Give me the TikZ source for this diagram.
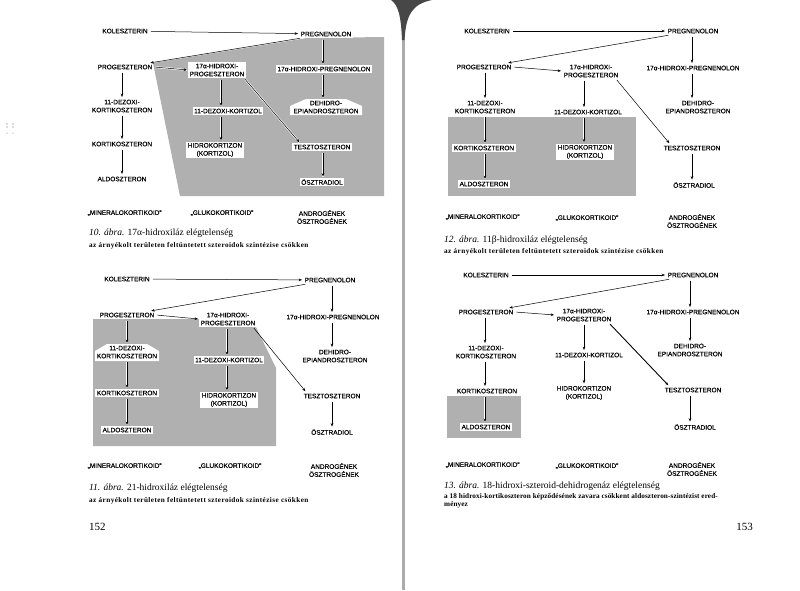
\documentclass[tikz,border=0pt]{standalone}
\usepackage{fontspec}
\setmainfont{Liberation Serif}
\newfontfamily\labfont[FakeBold=0.25]{Liberation Sans}
\usetikzlibrary{arrows.meta,calc}
\begin{document}
\begin{tikzpicture}[x=1pt,y=-1pt,
  lab/.style={font=\labfont\fontsize{6.5}{8}\selectfont, inner sep=1.5pt, align=center},
  wb/.style={lab, fill=white},
  arr/.style={-{Stealth[length=3.4pt,width=2.6pt]}, line width=0.5pt, shorten >=1pt, shorten <=1.5pt},
  harr/.style={arr, preaction={draw=white, line width=1.8pt, -}},
  thk/.style={arr, line width=0.9pt},
  shd/.style={fill=black!31},
  capt/.style={anchor=west, inner sep=0pt, font=\fontsize{9.5}{11}\selectfont},
  subt/.style={anchor=west, inner sep=0pt, font=\fontsize{7.2}{8.5}\selectfont\bfseries\addfontfeatures{LetterSpace=6}},
  subtb/.style={anchor=west, inner sep=0pt, font=\fontsize{7.2}{8.3}\selectfont\bfseries\addfontfeatures{LetterSpace=1.5}},
  pnum/.style={inner sep=0pt, font=\fontsize{11}{12}\selectfont}
]
\useasboundingbox (0,0) rectangle (800,590);
\fill[white] (0,0) rectangle (800,590);
% gutter
\fill[black!33] (402,0) rectangle (404.5,590);
\fill[black!72] (391,0) .. controls (398,5) and (401,15) .. (402,40) -- (404.5,40) .. controls (406,15) and (412,4) .. (432,0) -- cycle;
% margin marks
\fill[black!60] (7,124) circle (0.6) (7,127) circle (0.6) (13,124) circle (0.6) (13,127) circle (0.6) (7,133) circle (0.5) (13,133) circle (0.5);

%================ Diagram 10 ================
\fill[shd] (153,63) -- (307,38) -- (384,37) -- (384,196) -- (180,196) -- cycle;
\fill[white] (290,115) -- (290,106) -- (306,99) -- (346,99) -- (362,106) -- (362,115) -- cycle;
\coordinate (aL) at (122,0); \coordinate (aM) at (221,0); \coordinate (aR) at (323,0);
\node[lab] (a1) at (125,31) {KOLESZTERIN};
\node[wb] (a2) at (326,34) {PREGNENOLON};
\node[lab] (a3) at (125,67) {PROGESZTERON};
\node[wb] (a4) at (217,70) {17α-HIDROXI-\\PROGESZTERON};
\node[wb] (a5) at (324,69) {17α-HIDROXI-PREGNENOLON};
\node[lab] (a6) at (326,107) {DEHIDRO-\\EPIANDROSZTERON};
\node[wb] (a7) at (228,111) {11-DEZOXI-KORTIZOL};
\node[wb] (a8) at (215,150) {HIDROKORTIZON\\(KORTIZOL)};
\node[wb] (a9) at (322,147) {TESZTOSZTERON};
\node[wb] (a10) at (322,182) {ÖSZTRADIOL};
\node[lab] (a11) at (122,106) {11-DEZOXI-\\KORTIKOSZTERON};
\node[lab] (a12) at (122,144) {KORTIKOSZTERON};
\node[lab] (a13) at (122,179) {ALDOSZTERON};
\draw[arr] (a1) -- (a2);
\draw[arr] (a2) -- (a3);
\draw[harr] (a3.east) -- (a4.west);
\draw[harr] (a2.south -| aR) -- (a5.north -| aR);
\draw[harr] (a5.south -| aR) -- (a6.north -| aR);
\draw[harr] (a4.south -| aM) -- (a7.north -| aM);
\draw[harr] (a7.south -| aM) -- (a8.north -| aM);
\draw[harr] ($(a4.south east)+(-2,0)$) -- ($(a9.north west)+(8,0)$);
\draw[harr] (a9.south -| aR) -- (a10.north -| aR);
\draw[arr] (a3.south -| aL) -- (a11.north -| aL);
\draw[arr] (a11.south -| aL) -- (a12.north -| aL);
\draw[arr] (a12.south -| aL) -- (a13.north -| aL);
\node[lab, anchor=west] (a14) at (86,213) {„MINERALOKORTIKOID”};
\node[lab] (a15) at (222,213) {„GLUKOKORTIKOID”};
\node[lab] (a16) at (322,217) {ANDROGÉNEK\\ÖSZTROGÉNEK};
\node[capt] (a17) at (89,233) {\textit{10. ábra.} 17α-hidroxiláz elégtelenség};
\node[subt] (a18) at (89,246) {az árnyékolt területen feltüntetett szteroidok szintézise csökken};

%================ Diagram 11 ================
\fill[shd] (93,319) -- (252,319) -- (276,368) -- (276,446) -- (93,446) -- cycle;
\fill[white] (95,361) -- (95,351) -- (107,344) -- (147,344) -- (159,351) -- (159,361) -- cycle;
\coordinate (bL) at (127,0); \coordinate (bM) at (227,0); \coordinate (bR) at (332,0);
\node[lab] (b1) at (127,279) {KOLESZTERIN};
\node[lab] (b2) at (330,280) {PREGNENOLON};
\node[wb] (b3) at (127,315) {PROGESZTERON};
\node[wb] (b4) at (228,319) {17α-HIDROXI-\\PROGESZTERON};
\node[lab] (b5) at (333,317) {17α-HIDROXI-PREGNENOLON};
\node[lab] (b6) at (335,356) {DEHIDRO-\\EPIANDROSZTERON};
\node[wb] (b7) at (229,360) {11-DEZOXI-KORTIZOL};
\node[wb] (b8) at (229,400) {HIDROKORTIZON\\(KORTIZOL)};
\node[lab] (b9) at (332,396) {TESZTOSZTERON};
\node[lab] (b10) at (332,432) {ÖSZTRADIOL};
\node[lab] (b11) at (127,352) {11-DEZOXI-\\KORTIKOSZTERON};
\node[wb] (b12) at (127,393) {KORTIKOSZTERON};
\node[wb] (b13) at (127,430) {ALDOSZTERON};
\draw[arr] (b1) -- (b2);
\draw[arr] (b2) -- (b3);
\draw[arr] (b3.east) -- (b4.west);
\draw[arr] (b2.south -| bR) -- (b5.north -| bR);
\draw[arr] (b5.south -| bR) -- (b6.north -| bR);
\draw[harr] (b4.south -| bM) -- (b7.north -| bM);
\draw[harr] (b7.south -| bM) -- (b8.north -| bM);
\draw[arr] ($(b4.south east)+(-4,0)$) -- ($(b9.north west)+(4,0)$);
\draw[arr] (b9.south -| bR) -- (b10.north -| bR);
\draw[harr] (b3.south -| bL) -- (b11.north -| bL);
\draw[harr] (b11.south -| bL) -- (b12.north -| bL);
\draw[harr] (b12.south -| bL) -- (b13.north -| bL);
\node[lab, anchor=west] (b14) at (86,466) {„MINERALOKORTIKOID”};
\node[lab] (b15) at (230,466) {„GLUKOKORTIKOID”};
\node[lab] (b16) at (334,470) {ANDROGÉNEK\\ÖSZTROGÉNEK};
\node[capt] (b17) at (89,488) {\textit{11. ábra.} 21-hidroxiláz elégtelenség};
\node[subt] (b18) at (89,501) {az árnyékolt területen feltüntetett szteroidok szintézise csökken};
\node[pnum, anchor=west] (b19) at (89,527) {152};

%================ Diagram 12 ================
\fill[shd] (448,117) rectangle (636,196);
\coordinate (cL) at (485,0); \coordinate (cM) at (584,0); \coordinate (cR) at (692,0);
\node[lab] (c1) at (487,31) {KOLESZTERIN};
\node[lab] (c2) at (693,31) {PREGNENOLON};
\node[lab] (c3) at (484,67) {PROGESZTERON};
\node[lab] (c4) at (591,71) {17α-HIDROXI-\\PROGESZTERON};
\node[lab] (c5) at (693,68) {17α-HIDROXI-PREGNENOLON};
\node[lab] (c6) at (698,107) {DEHIDRO-\\EPIANDROSZTERON};
\node[lab] (c7) at (588,112) {11-DEZOXI-KORTIZOL};
\node[wb] (c8) at (585,152) {HIDROKORTIZON\\(KORTIZOL)};
\node[lab] (c9) at (692,148) {TESZTOSZTERON};
\node[lab] (c10) at (694,185) {ÖSZTRADIOL};
\node[lab] (c11) at (485,107) {11-DEZOXI-\\KORTIKOSZTERON};
\node[wb] (c12) at (484,148) {KORTIKOSZTERON};
\node[wb] (c13) at (484,184) {ALDOSZTERON};
\draw[arr] (c1) -- (c2);
\draw[arr] (c2) -- (c3);
\draw[arr] (c3.east) -- (c4.west);
\draw[arr] (c2.south -| cR) -- (c5.north -| cR);
\draw[arr] (c5.south -| cR) -- (c6.north -| cR);
\draw[arr] (c4.south -| cM) -- (c7.north -| cM);
\draw[harr] (c7.south -| cM) -- (c8.north -| cM);
\draw[arr] ($(c4.south east)+(-4,0)$) -- ($(c9.north west)+(8,0)$);
\draw[arr] (c9.south -| cR) -- (c10.north -| cR);
\draw[arr] (c3.south -| cL) -- (c11.north -| cL);
\draw[harr] (c11.south -| cL) -- (c12.north -| cL);
\draw[harr] (c12.south -| cL) -- (c13.north -| cL);
\node[lab, anchor=west] (c14) at (444,217) {„MINERALOKORTIKOID”};
\node[lab] (c15) at (587,218) {„GLUKOKORTIKOID”};
\node[lab] (c16) at (692,221) {ANDROGÉNEK\\ÖSZTROGÉNEK};
\node[capt] (c17) at (444,240) {\textit{12. ábra.} 11β-hidroxiláz elégtelenség};
\node[subt] (c18) at (444,252) {az árnyékolt területen feltüntetett szteroidok szintézise csökken};

%================ Diagram 13 ================
\fill[shd] (447,396) rectangle (521,438);
\coordinate (dL) at (485,0); \coordinate (dM) at (584,0); \coordinate (dR) at (690,0);
\node[lab] (d1) at (486,275) {KOLESZTERIN};
\node[lab] (d2) at (693,275) {PREGNENOLON};
\node[lab] (d3) at (486,312) {PROGESZTERON};
\node[lab] (d4) at (584,315) {17α-HIDROXI-\\PROGESZTERON};
\node[lab] (d5) at (693,312) {17α-HIDROXI-PREGNENOLON};
\node[lab] (d6) at (690,350) {DEHIDRO-\\EPIANDROSZTERON};
\node[lab] (d7) at (589,355) {11-DEZOXI-KORTIZOL};
\node[lab] (d8) at (584,393) {HIDROKORTIZON\\(KORTIZOL)};
\node[lab] (d9) at (693,390) {TESZTOSZTERON};
\node[lab] (d10) at (695,427) {ÖSZTRADIOL};
\node[lab] (d11) at (486,352) {11-DEZOXI-\\KORTIKOSZTERON};
\node[lab] (d12) at (487,391) {KORTIKOSZTERON};
\node[wb] (d13) at (486,427) {ALDOSZTERON};
\draw[arr] (d1) -- (d2);
\draw[arr] (d2) -- (d3);
\draw[arr] (d3.east) -- (d4.west);
\draw[arr] (d2.south -| dR) -- (d5.north -| dR);
\draw[arr] (d5.south -| dR) -- (d6.north -| dR);
\draw[arr] (d4.south -| dM) -- (d7.north -| dM);
\draw[arr] (d7.south -| dM) -- (d8.north -| dM);
\draw[thk] ($(d4.south east)+(-4,0)$) -- ($(d9.north west)+(6,0)$);
\draw[arr] (d9.south -| dR) -- (d10.north -| dR);
\draw[arr] (d3.south -| dL) -- (d11.north -| dL);
\draw[arr] (d11.south -| dL) -- (d12.north -| dL);
\draw[harr] (d12.south -| dL) -- (d13.north -| dL);
\node[lab, anchor=west] (d14) at (444,465) {„MINERALOKORTIKOID”};
\node[lab] (d15) at (587,466) {„GLUKOKORTIKOID”};
\node[lab] (d16) at (692,469) {ANDROGÉNEK\\ÖSZTROGÉNEK};
\node[capt] (d17) at (444,486) {\textit{13. ábra.} 18-hidroxi-szteroid-dehidrogenáz elégtelenség};
\node[subtb, align=left, anchor=north west] (d18) at (444,493) {a 18 hidroxi-kortikoszteron képződésének zavara csökkent aldoszteron-szintézist ered-\\ményez};
\node[pnum, anchor=east] (d19) at (753,527) {153};
\end{tikzpicture}
\end{document}
